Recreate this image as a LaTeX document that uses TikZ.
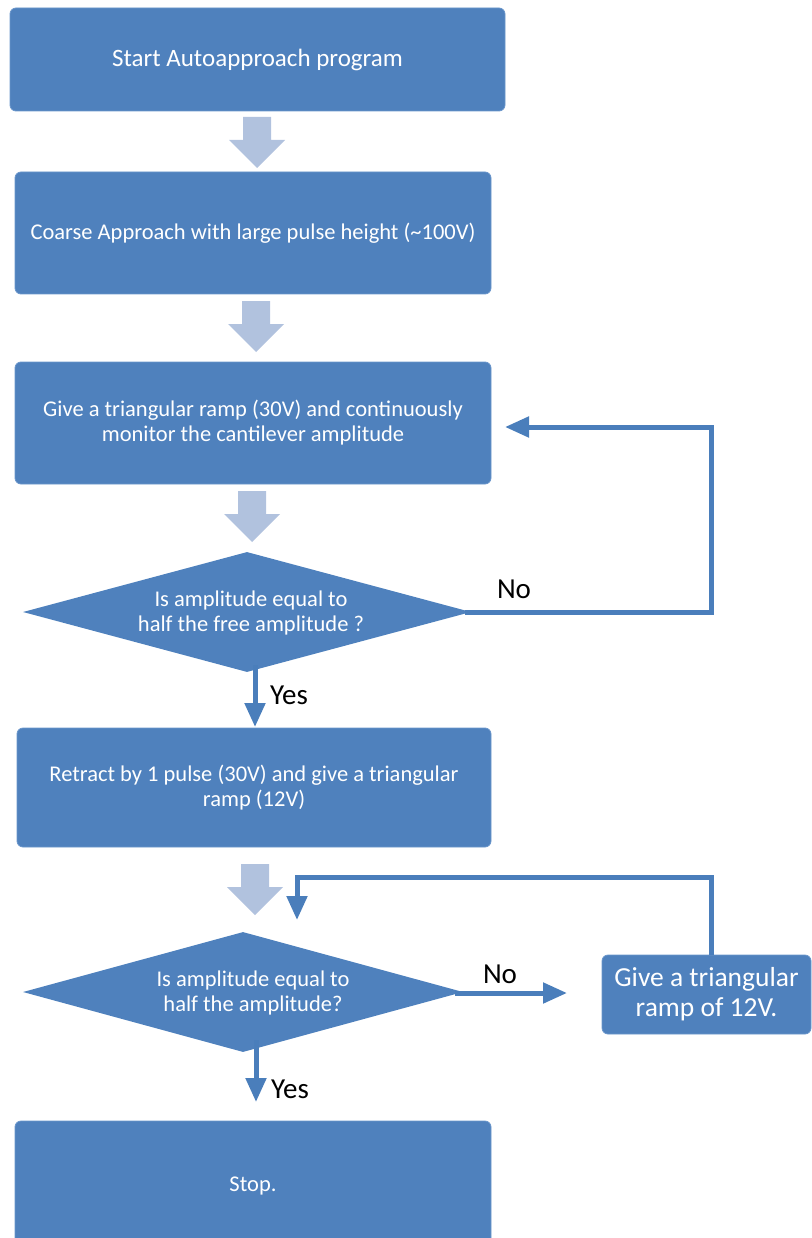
\documentclass[tikz,border=0pt]{standalone}
\usepackage{fontspec}
\setmainfont{Carlito}
\usetikzlibrary{shapes.geometric,arrows.meta,calc}
\definecolor{boxblue}{HTML}{4F81BD}
\definecolor{boxedge}{HTML}{6A96CB}
\definecolor{lineblue}{HTML}{4A7EBB}
\definecolor{lightarrow}{HTML}{B1C2DE}
\tikzset{
  box/.style={rectangle, rounded corners=6pt, fill=boxblue, draw=boxedge, line width=0.8pt,
    text=white, align=center, inner sep=0pt, font=\fontsize{22.5}{25}\selectfont},
  decision/.style={diamond, fill=boxblue, inner sep=0pt, aspect=3.73},
  dtext/.style={text=white, align=center, inner sep=0pt, font=\fontsize{22.5}{25}\selectfont},
  conn/.style={draw=lineblue, line width=5pt, -{Triangle[length=24pt,width=20pt]}},
  lbl/.style={text=black, font=\fontsize{29}{30}\selectfont, inner sep=0pt},
  blockarrow/.style={fill=lightarrow}
}
\newcommand{\myblockarrow}[1]{%
  \fill[blockarrow] ($(#1)+(-14,0)$) -- ++(28,0) -- ++(0,23) -- ++(14,0)
    -- ($(#1)+(0,51)$) -- ($(#1)+(-28,23)$) -- ++(14,0) -- cycle;}
\begin{document}
\begin{tikzpicture}[x=1pt,y=-1pt]
\useasboundingbox (0,0) rectangle (811,1238);
% boxes
\node[box, minimum width=495, minimum height=103, font=\fontsize{25}{25}\selectfont] (b1) at (257.5,59.5) {Start Autoapproach program};
\node[box, minimum width=476, minimum height=122] (b2) at (253,233) {Coarse Approach with large pulse height (\textasciitilde100V)};
\node[box, minimum width=476, minimum height=122] (b3) at (253,423) {Give a triangular ramp (30V) and continuously\\monitor the cantilever amplitude};
\node[decision, minimum width=448, minimum height=120] (d1) at (247,612) {};
\node[dtext] (t1) at (251,613) {Is amplitude equal to\\half the free amplitude ?};
\node[box, minimum width=474, minimum height=119] (b4) at (254,787.5) {Retract by 1 pulse (30V) and give a triangular\\ramp (12V)};
\node[decision, minimum width=440, minimum height=120] (d2) at (243,992) {};
\node[dtext] (t2) at (253,993) {Is amplitude equal to\\half the amplitude?};
\node[box, minimum width=209, minimum height=79, font=\fontsize{27.5}{30}\selectfont] (r) at (706.5,994.5) {Give a triangular\\ramp of 12V.};
\node[box, minimum width=476, minimum height=130] (b5) at (253,1186) {Stop.};
% block arrows
\coordinate (a1) at (257,117);
\coordinate (a2) at (256,301);
\coordinate (a3) at (252,491);
\coordinate (a4) at (255,864);
\myblockarrow{a1}
\myblockarrow{a2}
\myblockarrow{a3}
\myblockarrow{a4}
% loop 1
\coordinate (l1a) at (711,612);
\coordinate (l1b) at (711,427);
\coordinate (l1t) at (505,427);
\draw[conn] ([xshift=-6pt]d1.east) -- (l1a) -- (l1b) -- (l1t);
\node[lbl] (no1) at (514,589) {No};
% yes 1
\coordinate (y1s) at (255,665);
\coordinate (y1t) at (255,727);
\draw[conn] (y1s) -- (y1t);
\node[lbl] (yes1) at (289,695) {Yes};
% loop 2
\coordinate (l2a) at ([xshift=4.5pt]r.north);
\coordinate (l2c) at (297,877);
\coordinate (l2t) at (297,920);
\draw[conn] (l2a) -- (l2a|-l2c) -- (l2c) -- (l2t);
% no 2
\coordinate (n2s) at (455,993);
\coordinate (n2t) at (567,993);
\draw[conn] (n2s) -- (n2t);
\node[lbl] (no2) at (500,974) {No};
% yes 2
\coordinate (y2s) at (256,1040);
\coordinate (y2t) at (256,1102);
\draw[conn] (y2s) -- (y2t);
\node[lbl] (yes2) at (290,1089) {Yes};
\end{tikzpicture}
\end{document}
